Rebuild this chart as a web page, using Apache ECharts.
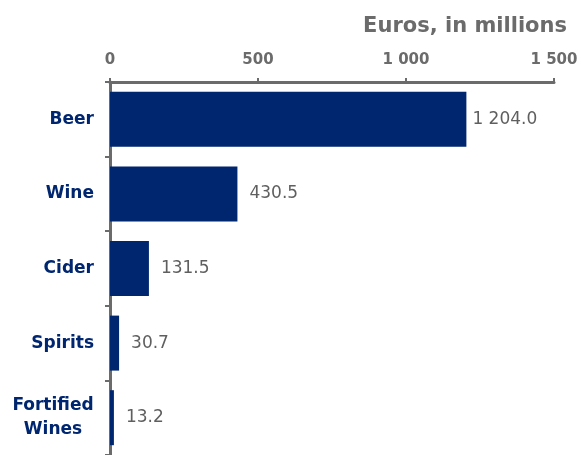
<!DOCTYPE html>
<html>
<head>
<meta charset="utf-8">
<script src="https://cdn.jsdelivr.net/npm/echarts@6/dist/echarts.min.js"></script>
<style>
  html, body { margin: 0; padding: 0; background: #ffffff; }
  #chart { width: 581px; height: 455px; }
</style>
</head>
<body>
<div id="chart"></div>
<script>
// Drink categories and their values (euros, millions)
const categories = ['Beer', 'Wine', 'Cider', 'Spirits', 'Fortified\nWines'];
const values = [1204.0, 430.5, 131.5, 30.7, 13.2];
const axisTicks = [0, 500, 1000, 1500];

const navy = '#00266f';
const grey = '#6b6b6b';
const FONT = 'DejaVu Sans, Verdana, sans-serif';

function spaced(v, digits) {
  const s = v.toFixed(digits);
  const parts = s.split('.');
  parts[0] = parts[0].replace(/\B(?=(\d{3})+(?!\d))/g, ' ');
  return parts.join('.');
}

// the longest bar sits close to its label so the text fits inside the frame
const barData = values.map((v, i) => ({
  value: v,
  label: { distance: i === 0 ? 6 : 12 }
}));

const chart = echarts.init(document.getElementById('chart'), null, { renderer: 'canvas' });

chart.setOption({
  animation: false,
  title: {
    text: 'Euros, in millions',
    right: 9,
    top: 11,
    textStyle: { fontFamily: FONT, fontSize: 21, fontWeight: 'bold', color: grey }
  },
  grid: { left: 110, right: 27, top: 82, height: 375, containLabel: false },
  xAxis: {
    type: 'value',
    position: 'top',
    min: axisTicks[0],
    max: axisTicks[axisTicks.length - 1],
    interval: axisTicks[1] - axisTicks[0],
    axisLine: { show: true, lineStyle: { color: grey, width: 3 } },
    axisTick: { show: true, length: 4, lineStyle: { color: grey, width: 2 } },
    splitLine: { show: false },
    axisLabel: {
      margin: 14,
      fontFamily: FONT, fontSize: 15, fontWeight: 'bold', color: grey,
      formatter: v => spaced(v, 0)
    }
  },
  yAxis: {
    type: 'category',
    inverse: true,
    data: categories,
    axisLine: { show: true, lineStyle: { color: grey, width: 3 } },
    axisTick: { show: true, alignWithLabel: false, length: 5, lineStyle: { color: grey, width: 2 } },
    axisLabel: {
      margin: 16,
      fontFamily: FONT, fontSize: 17, fontWeight: 'bold', color: navy,
      lineHeight: 24,
      formatter: v => v.indexOf('\n') >= 0
        ? v.split('\n').map(s => '{c|' + s + '}').join('\n')
        : v,
      rich: {
        c: {
          width: 82, align: 'center',
          fontFamily: FONT, fontSize: 17, fontWeight: 'bold', color: navy,
          lineHeight: 24
        }
      }
    }
  },
  series: [{
    type: 'bar',
    data: barData,
    barWidth: 55,
    itemStyle: { color: navy },
    label: {
      show: true,
      position: 'right',
      fontFamily: FONT, fontSize: 17, color: '#5f5f5f',
      formatter: p => spaced(p.value, 1)
    }
  }]
});
</script>
</body>
</html>
